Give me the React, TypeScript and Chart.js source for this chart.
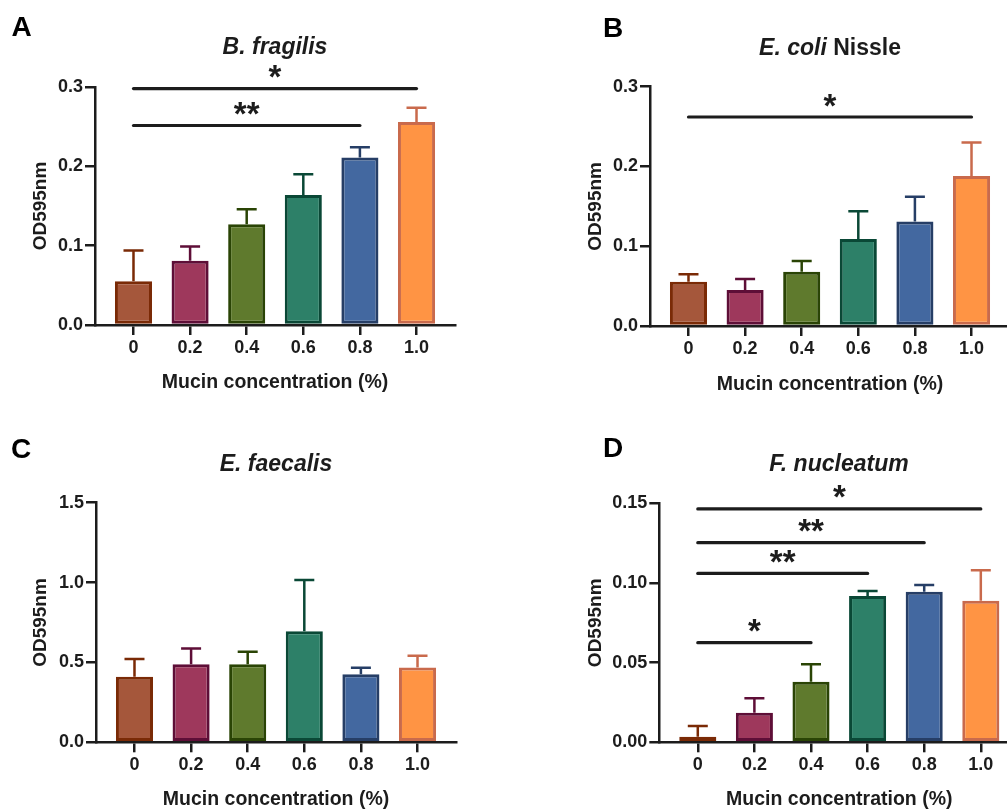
import React, { useEffect, useRef } from 'react';
import { Chart, registerables } from 'chart.js';

Chart.register(...registerables);

// ---------- data ----------
const CATEGORIES = ['0', '0.2', '0.4', '0.6', '0.8', '1.0'];
const FILL_COLORS = ['#A5573B', '#9E385C', '#5F7A2D', '#2D8068', '#4368A0', '#FF9444'];
const BORDER_COLORS = ['#7A2A06', '#5E0E37', '#2A4405', '#0A4836', '#263E66', '#C96A4C'];

const A_MEANS = [0.055, 0.081, 0.127, 0.164, 0.211, 0.256];
const A_ERRORS = [0.039, 0.018, 0.019, 0.026, 0.013, 0.018];
const A_Y_TICKS = [0, 0.1, 0.2, 0.3];
const A_Y_LABELS = ['0.0', '0.1', '0.2', '0.3'];
const A_SIG: [number, number, number, string][] = [
  [0, 5, 0.298, '*'],
  [0, 4, 0.2515, '**'],
];

const B_MEANS = [0.0555, 0.045, 0.068, 0.109, 0.131, 0.188];
const B_ERRORS = [0.0095, 0.014, 0.0135, 0.035, 0.031, 0.042];
const B_Y_TICKS = [0, 0.1, 0.2, 0.3];
const B_Y_LABELS = ['0.0', '0.1', '0.2', '0.3'];
const B_SIG: [number, number, number, string][] = [[0, 5, 0.262, '*']];

const C_MEANS = [0.41, 0.488, 0.488, 0.696, 0.4255, 0.469];
const C_ERRORS = [0.111, 0.1, 0.079, 0.32, 0.0415, 0.073];
const C_Y_TICKS = [0, 0.5, 1.0, 1.5];
const C_Y_LABELS = ['0.0', '0.5', '1.0', '1.5'];
const C_SIG: [number, number, number, string][] = [];

const D_MEANS = [0.0035, 0.0186, 0.038, 0.0918, 0.0945, 0.0889];
const D_ERRORS = [0.0067, 0.009, 0.011, 0.0032, 0.0042, 0.0191];
const D_Y_TICKS = [0, 0.05, 0.1, 0.15];
const D_Y_LABELS = ['0.00', '0.05', '0.10', '0.15'];
const D_SIG: [number, number, number, string][] = [
  [0, 5, 0.1465, '*'],
  [0, 4, 0.1253, '**'],
  [0, 3, 0.106, '**'],
  [0, 2, 0.0625, '*'],
];

const X_TITLE = 'Mucin concentration (%)';
const Y_TITLE = 'OD595nm';

// ---------- style ----------
const FONT = '"Liberation Sans", Arial, Helvetica, sans-serif';
const INK = '#1c1c1c';
const W = 520;
const H = 410;
const AREA_W = 360;

type PanelCfg = {
  left: number;
  top: number;
  axisLeft: number;
  areaTop: number;
  areaBottom: number;
  xTitleY: number;
  means: number[];
  errors: number[];
  yTicks: number[];
  yLabels: string[];
  sig: [number, number, number, string][];
};

const PANELS: PanelCfg[] = [
  { left: 0, top: 0, axisLeft: 95, areaTop: 87, areaBottom: 325, xTitleY: 383,
    means: A_MEANS, errors: A_ERRORS, yTicks: A_Y_TICKS, yLabels: A_Y_LABELS, sig: A_SIG },
  { left: 555, top: 0, axisLeft: 95, areaTop: 86.7, areaBottom: 326, xTitleY: 385,
    means: B_MEANS, errors: B_ERRORS, yTicks: B_Y_TICKS, yLabels: B_Y_LABELS, sig: B_SIG },
  { left: 0, top: 420, axisLeft: 96, areaTop: 82.7, areaBottom: 322.3, xTitleY: 380,
    means: C_MEANS, errors: C_ERRORS, yTicks: C_Y_TICKS, yLabels: C_Y_LABELS, sig: C_SIG },
  { left: 555, top: 420, axisLeft: 104.3, areaTop: 83.3, areaBottom: 322.3, xTitleY: 380,
    means: D_MEANS, errors: D_ERRORS, yTicks: D_Y_TICKS, yLabels: D_Y_LABELS, sig: D_SIG },
];

function Panel({ cfg }: { cfg: PanelCfg }) {
  const ref = useRef<HTMLCanvasElement | null>(null);

  useEffect(() => {
    if (!ref.current) return;
    const yMax = cfg.yTicks[cfg.yTicks.length - 1];

    const errorBars = {
      id: 'errorBars',
      afterDatasetsDraw(chart: any) {
        const ctx = chart.ctx;
        const meta = chart.getDatasetMeta(0);
        const ys = chart.scales.y;
        ctx.save();
        ctx.lineWidth = 2.5;
        cfg.means.forEach((m, i) => {
          const el = meta.data[i];
          const x = el.x;
          const y0 = ys.getPixelForValue(m);
          const y1 = ys.getPixelForValue(m + cfg.errors[i]);
          ctx.strokeStyle = BORDER_COLORS[i];
          ctx.beginPath();
          ctx.moveTo(x, y0);
          ctx.lineTo(x, y1);
          ctx.moveTo(x - 10, y1);
          ctx.lineTo(x + 10, y1);
          ctx.stroke();
        });
        ctx.restore();
      },
    };

    const sigLines = {
      id: 'sigLines',
      afterDraw(chart: any) {
        const ctx = chart.ctx;
        const xs = chart.scales.x;
        const ys = chart.scales.y;
        ctx.save();
        ctx.strokeStyle = INK;
        ctx.fillStyle = INK;
        ctx.lineWidth = 3.2;
        ctx.lineCap = 'round';
        ctx.font = `bold 33px ${FONT}`;
        ctx.textAlign = 'center';
        ctx.textBaseline = 'alphabetic';
        cfg.sig.forEach(([from, to, level, text]) => {
          const x1 = xs.getPixelForValue(from);
          const x2 = xs.getPixelForValue(to);
          const y = ys.getPixelForValue(level);
          ctx.beginPath();
          ctx.moveTo(x1, y);
          ctx.lineTo(x2, y);
          ctx.stroke();
          ctx.fillText(text, (x1 + x2) / 2, y - 0.5);
        });
        ctx.restore();
      },
    };

    const tickFont = { family: FONT, size: 18, weight: 'bold' as const };
    const titleFont = { family: FONT, size: 19.5, weight: 'bold' as const };

    const chart = new Chart(ref.current, {
      type: 'bar',
      data: {
        datasets: [
          {
            data: cfg.means.map((v, i) => ({ x: i, y: v })),
            backgroundColor: FILL_COLORS,
            borderColor: BORDER_COLORS,
            borderWidth: 3,
            borderSkipped: false,
            barPercentage: 0.655,
            categoryPercentage: 1,
          },
        ],
      },
      options: {
        animation: false,
        responsive: false,
        events: [],
        layout: {
          padding: { left: 0, top: cfg.areaTop, right: W - cfg.axisLeft - AREA_W, bottom: 0 },
        },
        plugins: { legend: { display: false }, tooltip: { enabled: false }, title: { display: false } },
        scales: {
          x: {
            type: 'linear',
            min: -0.68,
            max: 5.68,
            offset: false,
            afterBuildTicks: (s: any) => {
              s.ticks = CATEGORIES.map((_, i) => ({ value: i }));
            },
            afterFit: (s: any) => {
              s.height = H - cfg.areaBottom;
            },
            ticks: {
              callback: (_v: any, i: number) => CATEGORIES[i],
              font: tickFont,
              color: INK,
              padding: 2,
              maxRotation: 0,
              autoSkip: false,
            },
            grid: {
              display: true,
              offset: false,
              drawOnChartArea: false,
              drawTicks: true,
              tickLength: 10,
              color: INK,
              lineWidth: 2.5,
            },
            border: { display: true, color: INK, width: 2.5 },
            title: {
              display: true,
              text: X_TITLE,
              font: titleFont,
              color: INK,
              padding: { top: 0, bottom: H - cfg.xTitleY - 11.7 },
            },
          },
          y: {
            type: 'linear',
            min: 0,
            max: yMax,
            afterBuildTicks: (s: any) => {
              s.ticks = cfg.yTicks.map((v) => ({ value: v }));
            },
            afterFit: (s: any) => {
              s.width = cfg.axisLeft;
            },
            ticks: {
              callback: (_v: any, i: number) => cfg.yLabels[i],
              font: tickFont,
              color: INK,
              padding: 2,
            },
            grid: {
              display: true,
              drawOnChartArea: false,
              drawTicks: true,
              tickLength: 10,
              color: INK,
              lineWidth: 2.5,
            },
            border: { display: true, color: INK, width: 2.5 },
            title: {
              display: true,
              text: Y_TITLE,
              font: { family: FONT, size: 19, weight: 'bold' as const },
              color: INK,
              padding: { top: 29, bottom: 0 },
            },
          },
        },
      },
      plugins: [errorBars, sigLines],
    } as any);

    return () => chart.destroy();
  }, [cfg]);

  return (
    <canvas
      ref={ref}
      width={W}
      height={H}
      style={{ position: 'absolute', left: cfg.left, top: cfg.top, width: W, height: H }}
    />
  );
}

const letterStyle = (left: number, top: number): React.CSSProperties => ({
  position: 'absolute',
  left,
  top,
  font: `bold 28px ${FONT}`,
  lineHeight: '28px',
  color: '#000',
  whiteSpace: 'nowrap',
});

const titleStyle = (cx: number, cy: number): React.CSSProperties => ({
  position: 'absolute',
  left: cx - 200,
  width: 400,
  top: cy - 0.49 * 23,
  textAlign: 'center',
  font: `bold 23px ${FONT}`,
  lineHeight: '23px',
  color: INK,
  whiteSpace: 'nowrap',
});

export default function App() {
  return (
    <div
      style={{
        position: 'absolute',
        left: 0,
        top: 0,
        width: 1007,
        height: 812,
        overflow: 'hidden',
        background: '#fff',
      }}
    >
      {PANELS.map((p, i) => (
        <Panel key={i} cfg={p} />
      ))}
      <div style={letterStyle(11.5, 13)}>A</div>
      <div style={letterStyle(603, 14)}>B</div>
      <div style={letterStyle(11, 434.5)}>C</div>
      <div style={letterStyle(603, 434)}>D</div>
      <div style={titleStyle(275, 46.7)}>
        <i>B. fragilis</i>
      </div>
      <div style={titleStyle(830, 47.5)}>
        <i>E. coli</i> Nissle
      </div>
      <div style={titleStyle(276, 463.5)}>
        <i>E. faecalis</i>
      </div>
      <div style={titleStyle(839, 463.5)}>
        <i>F. nucleatum</i>
      </div>
    </div>
  );
}
